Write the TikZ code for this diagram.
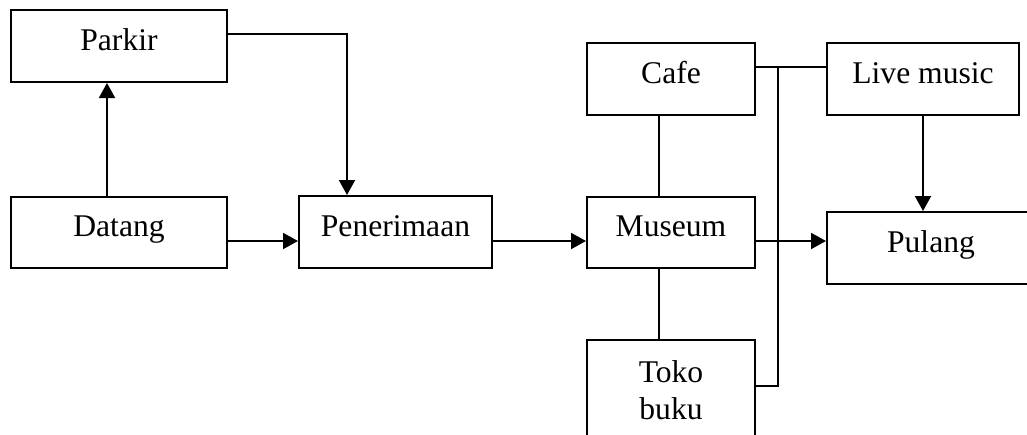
\documentclass[tikz,border=0pt]{standalone}
\usepackage{fontspec}
\setmainfont{Liberation Serif}
\usetikzlibrary{arrows.meta}
\begin{document}
\begin{tikzpicture}[x=0.5pt,y=-0.5pt,
  box/.style={draw, line width=1pt, inner sep=0pt, align=center,
    font=\fontsize{15.8pt}{18.5pt}\selectfont},
  one/.style={text height=11pt, text depth=7pt},
  conn/.style={line width=1pt},
  arr/.style={conn, -{Triangle[length=7.5pt,width=8pt]}}]
\useasboundingbox (0,0) rectangle (1027,434);
\clip (0,0) rectangle (1027,434);
\node[box,one,minimum width=108pt,minimum height=36pt] (parkir) at (119,46) {Parkir};
\node[box,one,minimum width=108pt,minimum height=35.5pt] (datang) at (119,232.5) {Datang};
\node[box,one,minimum width=96.5pt,minimum height=36pt] (pener) at (395.5,232) {Penerimaan};
\node[box,one,minimum width=84pt,minimum height=35.5pt] (museum) at (671,232.5) {Museum};
\node[box,one,minimum width=84pt,minimum height=36pt] (cafe) at (671,79) {Cafe};
\node[box,one,minimum width=96pt,minimum height=36pt] (live) at (923,79) {Live music};
\node[box,one,minimum width=104pt,minimum height=36pt] (pulang) at (931,248) {Pulang};
\node[box,minimum width=84pt,minimum height=50pt] (toko) at (671,390) {Toko\\buku};
\coordinate (j) at (778,67);
% connectors
\draw[arr] ([xshift=-6pt]datang.north) -- ([xshift=-6pt]parkir.south);
\draw[arr] ([yshift=6pt]parkir.east) -| ([xshift=-24.25pt]pener.north);
\draw[arr] ([yshift=-4.25pt]datang.east) -- ([yshift=-4.25pt]datang.east -| pener.west);
\draw[arr] ([yshift=-4.25pt]pener.east |- museum.east) -- ([yshift=-4.25pt]museum.west);
\draw[arr] ([yshift=-4.25pt]museum.east) -- ([yshift=-4.25pt]museum.east -| pulang.west);
\draw[conn] ([xshift=-6pt]cafe.south) -- ([xshift=-6pt]museum.north);
\draw[conn] ([xshift=-6pt]museum.south) -- ([xshift=-6pt]toko.north);
\draw[conn] ([yshift=6pt]cafe.east) -- ([yshift=6pt]live.west);
\draw[conn] (j) |- ([yshift=2pt]toko.east);
\draw[arr] (live.south) -- (live.south |- pulang.north);
\end{tikzpicture}
\end{document}
